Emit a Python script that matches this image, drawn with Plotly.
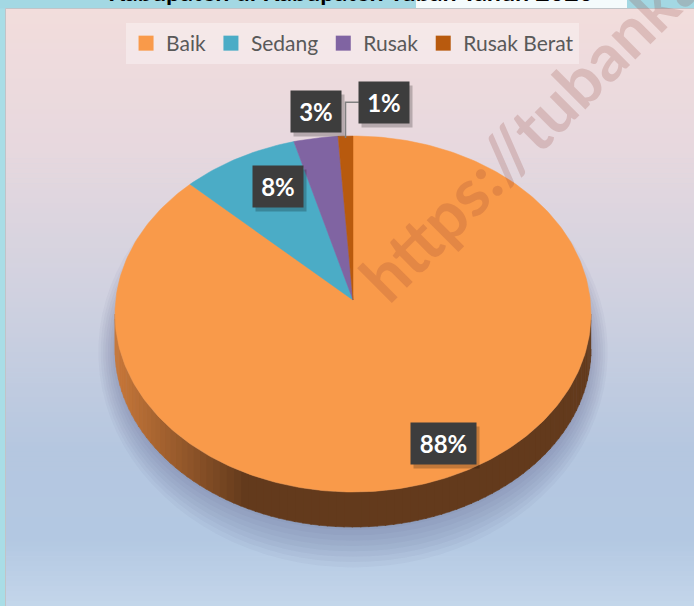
import math
import plotly.graph_objects as go

# ---------------- data ----------------
categories = ["Baik", "Sedang", "Rusak", "Rusak Berat"]
values = [88, 8, 3, 1]
label_texts = ["88%", "8%", "3%", "1%"]
title_text = "Kabupaten di Kabupaten Tuban Tahun 2020"
watermark_text = "https://tubankab.go.id"

# ---------------- style ----------------
W, H = 694, 606
colors = ["#F99A4A", "#4BACC6", "#8064A2", "#B85A0E"]
CX, CY, APEX_Y = 353, 314, 300
RX, RY, DEPTH = 238, 178, 35
label_r = [0.8, 0.7, 1.1, 1.1]
label_nudge = [(20, 11), (5, -4), (4, 5), (39, -2)]
label_w = [65, 50, 50, 50]
FONT = "Lato"


def rim(theta_deg, dy=0.0):
    t = math.radians(theta_deg)
    return CX + RX * math.sin(t), CY - RY * math.cos(t) + dy


def hexrgb(h):
    h = h.lstrip("#")
    return tuple(int(h[i:i + 2], 16) for i in (0, 2, 4))


def mix(c1, c2, f):
    a, b = hexrgb(c1), hexrgb(c2)
    return "rgb(%d,%d,%d)" % tuple(round(a[i] + (b[i] - a[i]) * f) for i in range(3))


fig = go.Figure()

# background gradient (chart area)
stops = [(9, "#f2dddc"), (150, "#e7d8de"), (300, "#cfd1e0"), (450, "#b5c7e0"),
         (540, "#b3c8e2"), (606, "#c4d6ea")]
shapes = []
NB = 120
for i in range(NB):
    y0 = 9 + (H - 9) * i / NB
    y1 = 9 + (H - 9) * (i + 1) / NB + 0.6
    ym = (y0 + y1) / 2
    for j in range(len(stops) - 1):
        if stops[j][0] <= ym <= stops[j + 1][0]:
            f = (ym - stops[j][0]) / (stops[j + 1][0] - stops[j][0])
            col = mix(stops[j][1], stops[j + 1][1], f)
            break
    shapes.append(dict(type="rect", xref="x", yref="y", x0=5, x1=W, y0=y0, y1=y1,
                       fillcolor=col, line=dict(width=0), layer="below"))
# outer window strips
shapes.append(dict(type="rect", xref="x", yref="y", x0=0, x1=5, y0=0, y1=H,
                   fillcolor="#a9dde6", line=dict(width=0), layer="below"))
shapes.append(dict(type="rect", xref="x", yref="y", x0=0, x1=W, y0=0, y1=8.5,
                   fillcolor="#a3d8e3", line=dict(width=0), layer="below"))
shapes.append(dict(type="rect", xref="x", yref="y", x0=416, x1=627, y0=0, y1=8,
                   fillcolor="#f4fbfc", line=dict(width=0), layer="below"))
shapes.append(dict(type="path", xref="x", yref="y",
                   path="M 5.5 %f L 5.5 8.5 L %f 8.5" % (H, W),
                   line=dict(color="#c0c4c8", width=1), layer="below"))

# soft shadow behind the pie
for k in range(8):
    pts = [rim(a) for a in range(0, 361, 4)]
    sx = [CX + (x - CX) * (1.0 + 0.010 * k) for x, y in pts]
    sy = [CY + 38 + (y - CY) * (1.0 + 0.03 * k) for x, y in pts]
    fig.add_trace(go.Scatter(x=sx, y=sy, mode="lines", fill="toself",
                             fillcolor="rgba(60,80,110,0.045)", line=dict(width=0),
                             hoverinfo="skip", showlegend=False))

# angles from data
total = sum(values)
bounds = []
acc = 0.0
for v in values:
    s = acc / total * 360
    acc += v
    bounds.append((s, acc / total * 360))

# pie side (front half only)
side_left, side_dark = "#c8783a", "#633a1c"
for i, (s, e) in enumerate(bounds):
    a0, a1 = max(s, 90), min(e, 270)
    if a1 <= a0:
        continue
    n = 90
    for k in range(n):
        t0 = a0 + (a1 - a0) * k / n
        t1 = a0 + (a1 - a0) * (k + 1) / n + 0.3
        p0, p1 = rim(t0), rim(min(t1, a1))
        xm = (p0[0] + p1[0]) / 2
        f = min(max((xm - 115) / (245 - 115), 0), 1)
        col = mix(side_left, side_dark, f)
        xs = [p0[0], p1[0], p1[0], p0[0]]
        ys = [p0[1], p1[1], p1[1] + DEPTH, p0[1] + DEPTH]
        fig.add_trace(go.Scatter(x=xs, y=ys, mode="lines", fill="toself",
                                 fillcolor=col, line=dict(width=0.6, color=col),
                                 hoverinfo="skip", showlegend=False))

# pie top face
for i, (s, e) in enumerate(bounds):
    steps = max(int((e - s) / 1.0), 2)
    pts = [rim(s + (e - s) * k / steps) for k in range(steps + 1)]
    xs = [CX] + [p[0] for p in pts] + [CX]
    ys = [APEX_Y] + [p[1] for p in pts] + [APEX_Y]
    fig.add_trace(go.Scatter(x=xs, y=ys, mode="lines", fill="toself",
                             fillcolor=colors[i], line=dict(width=0.5, color=colors[i]),
                             name=categories[i], legendgroup=categories[i],
                             text="%s: %s%%" % (categories[i], values[i]),
                             hoverinfo="text", hoveron="fills", showlegend=False))

# legend entries
for i, c in enumerate(categories):
    fig.add_trace(go.Scatter(x=[None], y=[None], mode="markers", name=c,
                             legendgroup=c,
                             marker=dict(symbol="square", size=15, color=colors[i])))

# data labels
annotations = []
for i, (s, e) in enumerate(bounds):
    m = math.radians((s + e) / 2)
    lx = CX + RX * label_r[i] * math.sin(m) + label_nudge[i][0]
    ly = APEX_Y - RY * label_r[i] * math.cos(m) + label_nudge[i][1]
    if i == 3:
        ex, ey = rim((s + e) / 2)
        bx = lx - label_w[i] / 2
        shapes.append(dict(type="path", xref="x", yref="y",
                           path="M %f %f L %f %f L %f %f" % (bx, ly, ex, ly, ex, ey + 2),
                           line=dict(color="#808080", width=1.5)))
    annotations.append(dict(x=lx + 3, y=ly + 4, xref="x", yref="y", text=" ",
                            showarrow=False, width=label_w[i], height=41,
                            bgcolor="rgba(0,0,0,0.22)", borderpad=0))
    annotations.append(dict(x=lx, y=ly, xref="x", yref="y",
                            text="<b>%s</b>" % label_texts[i], showarrow=False,
                            width=label_w[i], height=41, bgcolor="#3d3d3d",
                            borderpad=0, font=dict(family=FONT, size=24, color="white")))

# cut-off title
annotations.append(dict(x=350, y=8, xref="x", yref="y", yanchor="bottom",
                        text="<b>%s</b>" % title_text, showarrow=False,
                        font=dict(family=FONT, size=25, color="black")))

# watermark
annotations.append(dict(x=599, y=59, xref="x", yref="y", text="<b>%s</b>" % watermark_text,
                        showarrow=False, textangle=-45,
                        font=dict(family=FONT, size=66, color="rgba(140,60,50,0.2)")))

fig.update_layout(
    width=W, height=H,
    margin=dict(l=0, r=0, t=0, b=0),
    paper_bgcolor="#c4d6ea", plot_bgcolor="rgba(0,0,0,0)",
    xaxis=dict(range=[0, W], visible=False, fixedrange=True),
    yaxis=dict(range=[H, 0], visible=False, fixedrange=True),
    shapes=shapes, annotations=annotations,
    showlegend=True,
    legend=dict(orientation="h", x=0.508, xanchor="center", y=1 - 23 / H, yanchor="top",
                bgcolor="rgba(255,255,255,0.35)", borderwidth=0,
                font=dict(family=FONT, size=21, color="#595959"),
                itemclick=False, itemdoubleclick=False, traceorder="normal"),
    hovermode="closest",
)

fig.write_html("out.html", config={"displayModeBar": False},
               post_script="document.body.style.margin='0';")
